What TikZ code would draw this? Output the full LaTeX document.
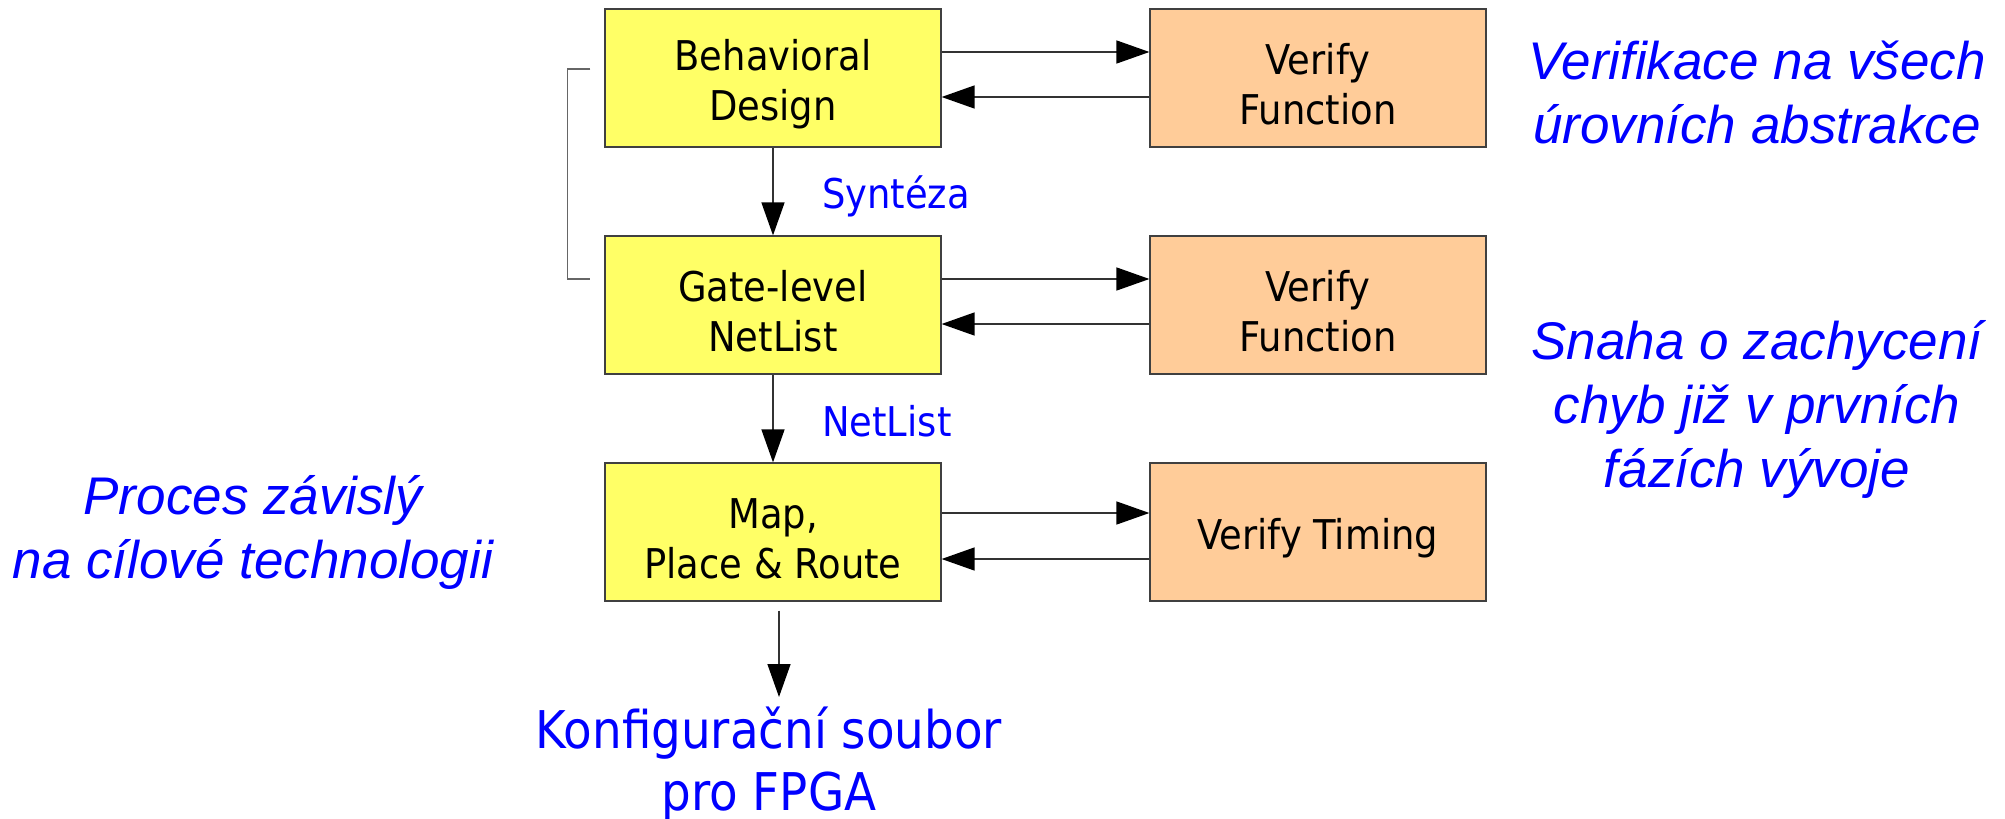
\documentclass[tikz,border=0pt]{standalone}
\usepackage{fontspec}
\setmainfont{DejaVu Sans Condensed}
\newfontfamily\itsans{Liberation Sans}
\usetikzlibrary{arrows.meta}
\definecolor{boxyellow}{HTML}{FFFF66}
\definecolor{boxorange}{HTML}{FFCC99}
\definecolor{lbl}{HTML}{0000FF}
\newcommand{\lift}{\rule{0pt}{43pt}}
\begin{document}
\begin{tikzpicture}[x=1pt,y=-1pt,
  box/.style={draw=black!75,line width=1.2pt,minimum width=336pt,minimum height=138pt,inner sep=0pt,align=center,font=\fontsize{41}{50}\selectfont},
  design/.style={box,fill=boxyellow},
  verif/.style={box,fill=boxorange},
  conn/.style={line width=1.4pt,draw=black!80,-{Triangle[length=33pt,width=23pt,color=black]}},
  lab/.style={text=lbl,font=\fontsize{41}{50}\selectfont,inner sep=0pt},
  note/.style={text=lbl,align=center,font=\itsans\itshape\fontsize{53}{64}\selectfont,inner sep=0pt}]
\useasboundingbox (0,0) rectangle (2005,819);
\node[design] (b1) at (773,78) {\lift Behavioral\\Design};
\node[verif] (v1) at (1318,78) {\lift Verify\\Function};
\node[design] (b2) at (773,305) {\lift Gate-level\\NetList};
\node[verif] (v2) at (1318,305) {\lift Verify\\Function};
\node[design] (b3) at (773,532) {\lift Map,\\Place \& Route};
\node[verif] (v3) at (1318,532) {\lift Verify Timing};

\draw[conn] ([yshift=26pt]b1.east) -- ([yshift=26pt]v1.west);
\draw[conn] ([yshift=-19pt]v1.west) -- ([yshift=-19pt]b1.east);
\draw[conn] ([yshift=26pt]b2.east) -- ([yshift=26pt]v2.west);
\draw[conn] ([yshift=-19pt]v2.west) -- ([yshift=-19pt]b2.east);
\draw[conn] ([yshift=19pt]b3.east) -- ([yshift=19pt]v3.west);
\draw[conn] ([yshift=-27pt]v3.west) -- ([yshift=-27pt]b3.east);

\draw[conn] (b1.south) -- (b2.north);
\draw[conn] (b2.south) -- (b3.north);

\node[lab,anchor=west] (syn) at (822,196) {Syntéza};
\node[lab,anchor=west] (nl) at (822,421) {NetList};

\node[text=lbl,align=center,font=\fontsize{52}{62}\selectfont,inner sep=0pt,anchor=north] (cfg) at (769,707) {Konfigurační soubor\\pro FPGA};
\draw[conn] ([xshift=6pt,yshift=-9pt]b3.south) -- ([xshift=10pt,yshift=10pt]cfg.north);

\draw[line width=1.2pt,draw=black!60] ([xshift=-14pt,yshift=9pt]b1.west) -- ++(-23pt,0pt) |- ([xshift=-14pt,yshift=26pt]b2.west);

\node[note] (n1) at (1757,92) {Verifikace na všech\\úrovních abstrakce};
\node[note] (n2) at (1757,409) {Snaha o zachycení\\chyb již v prvních\\fázích vývoje};
\node[note] (n3) at (253,532) {Proces závislý\\na cílové technologii};
\end{tikzpicture}
\end{document}
